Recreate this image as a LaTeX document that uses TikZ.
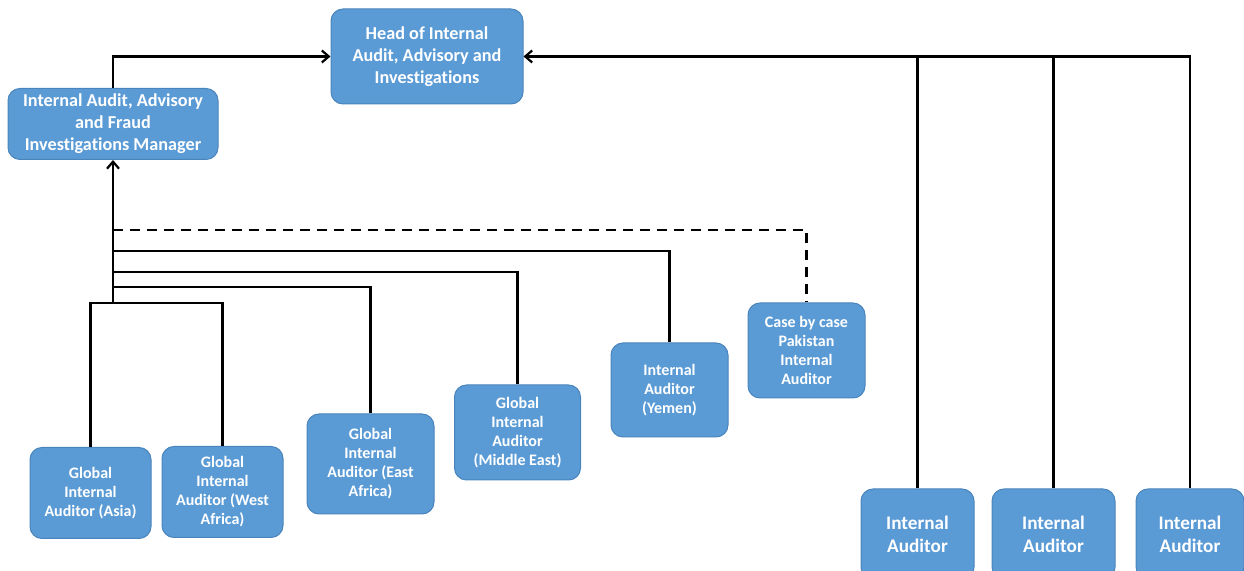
\documentclass[tikz,border=0pt]{standalone}
\usepackage{fontspec}
\setmainfont{Carlito}[Ligatures=NoCommon]
\usetikzlibrary{arrows.meta}
\definecolor{boxfill}{HTML}{5B9BD5}
\definecolor{boxline}{HTML}{4A84BC}
\tikzset{
  orgbox/.style={draw=boxline, line width=0.5pt, fill=boxfill, rounded corners=6pt,
    text=white, align=center, inner sep=0pt, font=\bfseries},
  bigtxt/.style={font=\fontsize{9.1}{11}\selectfont\bfseries},
  smalltxt/.style={font=\fontsize{8}{9.5}\selectfont\bfseries},
  iatxt/.style={font=\fontsize{9.6}{11.5}\selectfont\bfseries},
  link/.style={line width=1.1pt, black},
  arr/.style={link, -{Straight Barb[length=3.5pt,width=6pt,line width=1.1pt]}}
}
\begin{document}
\begin{tikzpicture}[x=0.5pt,y=-0.5pt]
\useasboundingbox (0,0) rectangle (1244,571);
\node[orgbox,bigtxt,minimum width=96pt,minimum height=47.5pt] (head) at (427,56.5)
  {Head of Internal\\Audit, Advisory and\\Investigations};
\node[orgbox,bigtxt,minimum width=105pt,minimum height=35.5pt] (mgr) at (113,124)
  {Internal Audit, Advisory\\and Fraud\\Investigations Manager};
\node[orgbox,smalltxt,minimum width=60.5pt,minimum height=45.5pt] (asia) at (90.5,493)
  {Global\\Internal\\Auditor (Asia)};
\node[orgbox,smalltxt,minimum width=60.5pt,minimum height=45.5pt] (west) at (222.5,492)
  {Global\\Internal\\Auditor (West\\Africa)};
\node[orgbox,smalltxt,minimum width=63.5pt,minimum height=50pt] (east) at (370.5,464)
  {Global\\Internal\\Auditor (East\\Africa)};
\node[orgbox,smalltxt,minimum width=63pt,minimum height=47.5pt] (me) at (517.5,432.5)
  {Global\\Internal\\Auditor\\(Middle East)};
\node[orgbox,smalltxt,minimum width=58.5pt,minimum height=47pt] (yem) at (669.5,390)
  {Internal\\Auditor\\(Yemen)};
\node[orgbox,smalltxt,minimum width=58.5pt,minimum height=47.5pt] (pak) at (806.5,350.5)
  {Case by case\\Pakistan\\Internal\\Auditor};
\node[orgbox,iatxt,minimum width=56.5pt,minimum height=45pt] (ia1) at (917.5,534)
  {Internal\\Auditor};
\node[orgbox,iatxt,minimum width=61.5pt,minimum height=45pt] (ia2) at (1053.5,534)
  {Internal\\Auditor};
\node[orgbox,iatxt,minimum width=54pt,minimum height=45pt] (ia3) at (1190,534)
  {Internal\\Auditor};
% junction points on the trunk
\coordinate (jA) at (113,303);
\coordinate (jE) at (113,287);
\coordinate (jM) at (113,272);
\coordinate (jY) at (113,251);
\coordinate (jP) at (113,230);
% top connectors
\draw[arr] (mgr.north) |- (head.west);
\draw[arr] (ia3.north) |- (head.east);
\draw[link] (ia1.north) -- (ia1.north |- head.east);
\draw[link] (ia2.north) -- (ia2.north |- head.east);
% trunk
\draw[arr] (jA) -- (mgr.south);
\draw[link] (asia.north) |- (jA) -| (west.north);
\draw[link] (jE) -| (east.north);
\draw[link] (jM) -| (me.north);
\draw[link] (jY) -| (yem.north);
\draw[link,dashed,dash pattern=on 5pt off 3.5pt] (jP) -| (pak.north);
\end{tikzpicture}
\end{document}
